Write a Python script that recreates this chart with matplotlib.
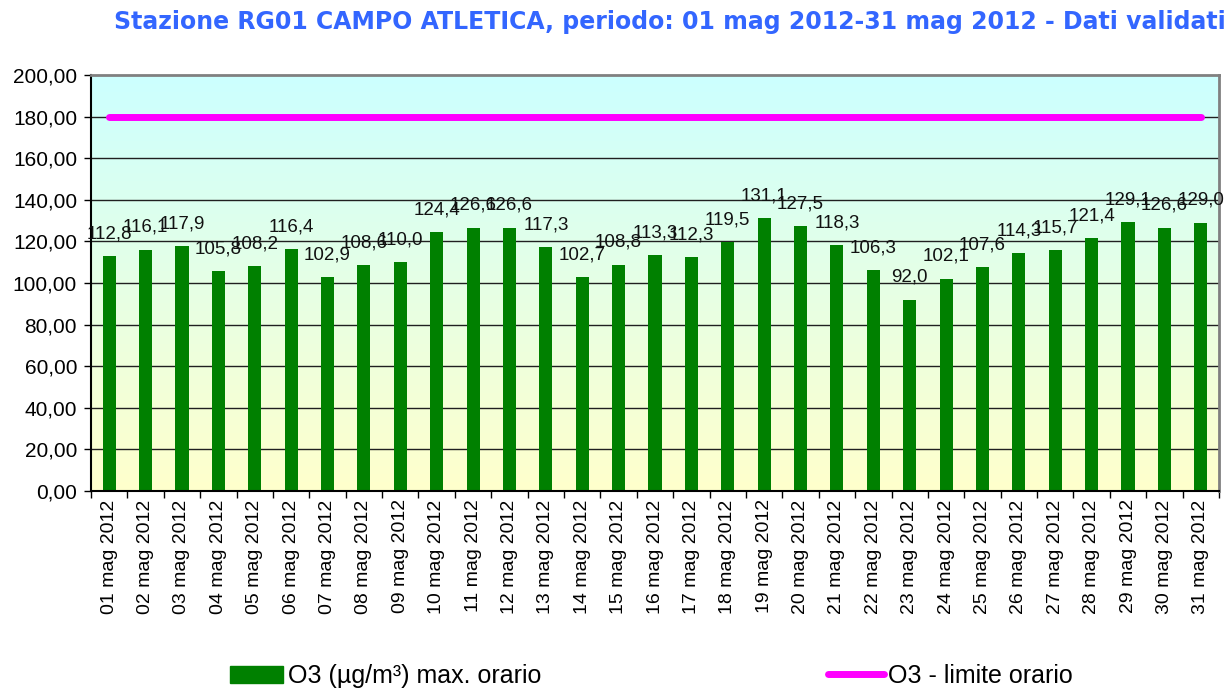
import numpy as np
import matplotlib
matplotlib.use('Agg')
import matplotlib.pyplot as plt
from matplotlib.patches import Patch
from matplotlib.lines import Line2D
from matplotlib.colors import LinearSegmentedColormap

plt.rcParams['font.family'] = ['Liberation Sans', 'DejaVu Sans']

# --- data ---
days = ['%02d mag 2012' % d for d in range(1, 32)]
o3_max = [112.8, 116.1, 117.9, 105.8, 108.2, 116.4, 102.9, 108.6, 110.0, 124.4,
          126.6, 126.6, 117.3, 102.7, 108.8, 113.3, 112.3, 119.5, 131.1, 127.5,
          118.3, 106.3, 92.0, 102.1, 107.6, 114.3, 115.7, 121.4, 129.1, 126.6,
          129.0]
limite = [180.0] * len(days)
y_ticks = [0, 20, 40, 60, 80, 100, 120, 140, 160, 180, 200]

title = 'Stazione RG01 CAMPO ATLETICA, periodo: 01 mag 2012-31 mag 2012 - Dati validati'


def fmt(v, nd):
    return ('%.*f' % (nd, v)).replace('.', ',')


fig = plt.figure(figsize=(12.31, 6.89), dpi=100)
ax = fig.add_axes([91 / 1231, 1 - 491 / 689, 1128 / 1231, 416 / 689])

x = np.arange(len(days))
n = len(days)

# gradient background cyan -> yellow
cmap = LinearSegmentedColormap.from_list('bg', ['#FFFFCC', '#CCFFFF'])
grad = np.linspace(0, 1, 256).reshape(-1, 1)
ax.imshow(grad, cmap=cmap, aspect='auto', origin='lower',
          extent=[-0.5, n - 0.5, 0, 200], zorder=0)

for t in y_ticks[1:-1]:
    ax.axhline(t, color='#202020', lw=1, zorder=1)

ax.bar(x, o3_max, width=0.36, color='#008000', zorder=2)
ax.plot(x, limite, color='#FF00FF', lw=5, solid_capstyle='round', zorder=3)

for xi, v in zip(x, o3_max):
    ax.annotate(fmt(v, 1), (xi, v), xytext=(0, 16), textcoords='offset points',
                ha='center', va='center', fontsize=13.5, color='#111111', zorder=4)

ax.set_xlim(-0.5, n - 0.5)
ax.set_ylim(0, 200)
ax.set_yticks(y_ticks)
ax.set_yticklabels([fmt(t, 2) for t in y_ticks], fontsize=15)
ax.set_xticks(x)
ax.set_xticklabels(days, rotation=90, fontsize=14)
ax.tick_params(axis='x', which='major', length=0, pad=6)
ax.set_xticks(np.arange(-0.5, n, 1), minor=True)
ax.tick_params(axis='x', which='minor', length=5, color='black', width=1)
ax.tick_params(axis='y', length=5, width=1, pad=5)

for s in ['top', 'right']:
    ax.spines[s].set_color('#808080')
    ax.spines[s].set_linewidth(2)
for s in ['left', 'bottom']:
    ax.spines[s].set_color('black')
    ax.spines[s].set_linewidth(1.5)

fig.text(670 / 1231, 1 - 22 / 689, title, ha='center', va='center',
         fontsize=17, fontweight='bold', color='#3366FF', family='DejaVu Sans')

fig.legend(handles=[Patch(color='#008000')], labels=['O3 (µg/m³) max. orario'],
           loc='center left', bbox_to_anchor=(230 / 1231, 1 - 676 / 689),
           frameon=False, fontsize=18, handlelength=2.1, handleheight=0.68,
           handletextpad=0.2, borderpad=0, borderaxespad=0)
fig.legend(handles=[Line2D([], [], color='#FF00FF', lw=5, solid_capstyle='round')],
           labels=['O3 - limite orario'],
           loc='center left', bbox_to_anchor=(828 / 1231, 1 - 676 / 689),
           frameon=False, fontsize=18, handlelength=2.25,
           handletextpad=0.15, borderpad=0, borderaxespad=0)

fig.savefig('out.png', dpi=100)
